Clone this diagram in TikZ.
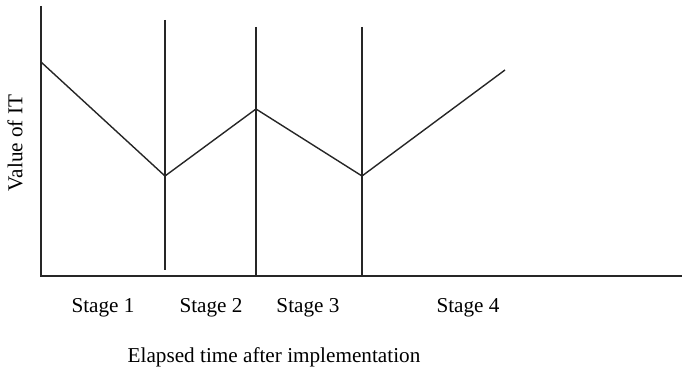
\documentclass[tikz,border=0pt]{standalone}
\usepackage{fontspec}
\setmainfont{Liberation Serif}
\usetikzlibrary{positioning}

\begin{document}
\begin{tikzpicture}[x=0.5pt, y=-0.5pt,
  axis/.style={line width=0.7pt, draw=black!85},
  stageline/.style={line width=0.7pt, draw=black!85},
  curve/.style={line width=0.7pt, draw=black!85},
  lbl/.style={font=\fontsize{10.6}{12}\selectfont, inner sep=0pt},
]
\useasboundingbox (0,0) rectangle (682,369);
\coordinate (top) at (41,6);
\coordinate (origin) at (41,276);
\coordinate (xend) at (682,276);
\draw[axis] (top) -- (origin) -- (xend);
\coordinate (s1t) at (165,20);
\coordinate (s1b) at (165,270);
\coordinate (s2t) at (256,27);
\coordinate (s2b) at (256,276);
\coordinate (s3t) at (362,27);
\coordinate (s3b) at (362,276);
\draw[stageline] (s1t) -- (s1b);
\draw[stageline] (s2t) -- (s2b);
\draw[stageline] (s3t) -- (s3b);
\coordinate (p0) at (41,62);
\coordinate (p1) at (165,176);
\coordinate (p2) at (256,109);
\coordinate (p3) at (362,176);
\coordinate (p4) at (505,70);
\draw[curve] (p0) -- (p1) -- (p2) -- (p3) -- (p4);
\node[lbl] (st1) at (103,308) {Stage 1};
\node[lbl] (st2) at (211,308) {Stage 2};
\node[lbl] (st3) at (308,308) {Stage 3};
\node[lbl] (st4) at (468,308) {Stage 4};
\node[lbl] (xlabel) at (274,357) {Elapsed time after implementation};
\node[lbl, rotate=90] (ylabel) at (15,143) {Value of IT};
\end{tikzpicture}
\end{document}
